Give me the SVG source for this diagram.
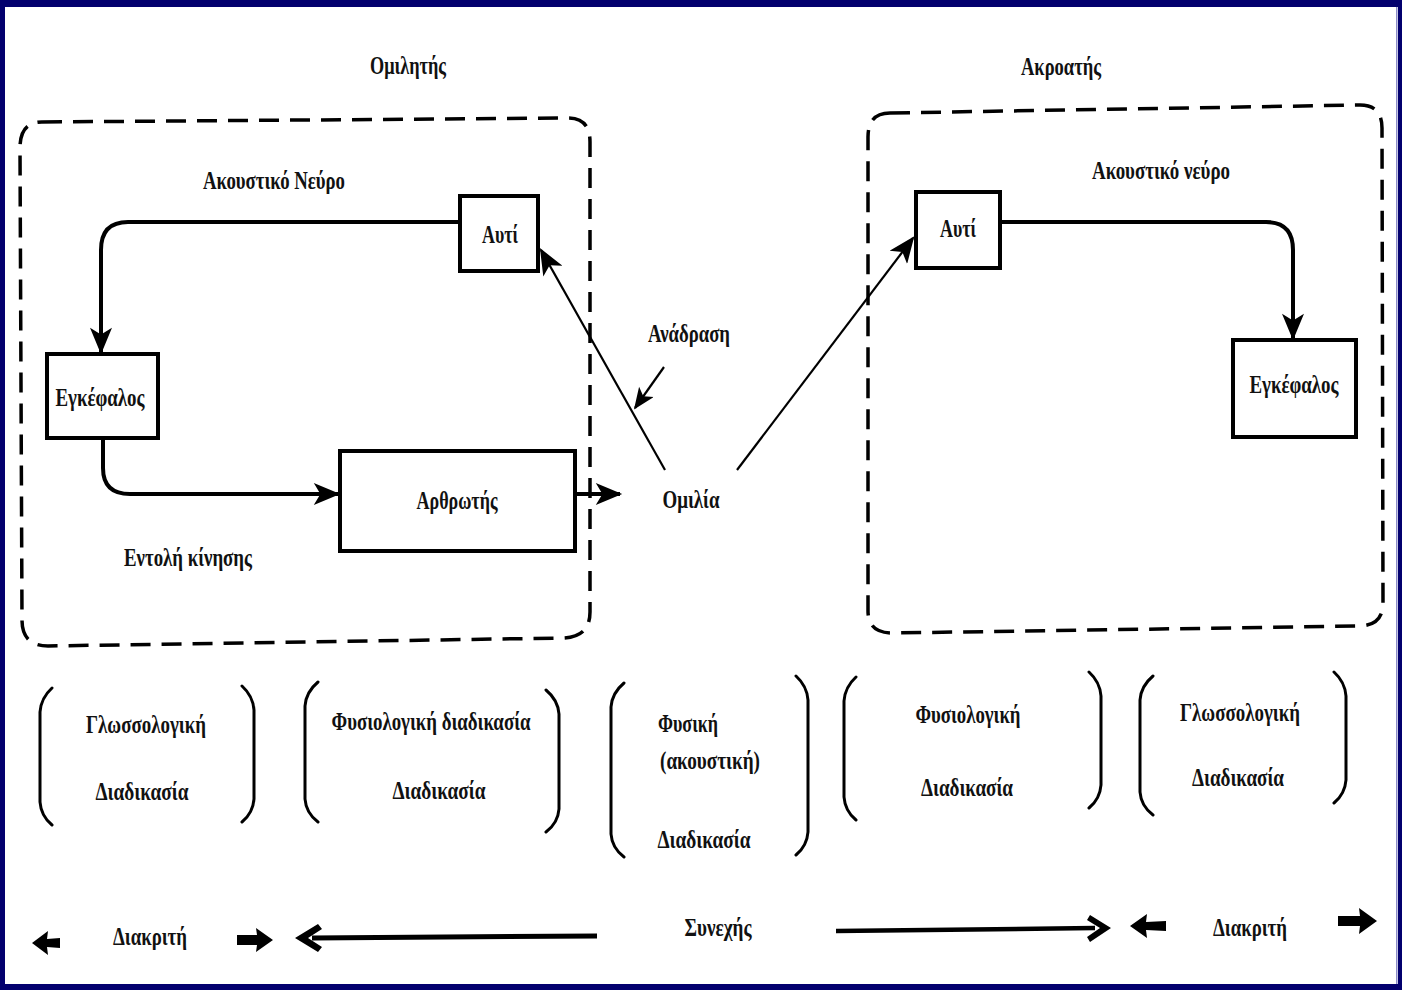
<svg xmlns="http://www.w3.org/2000/svg" width="1402" height="990" viewBox="0 0 1402 990">
<style>
.t{font-family:"Liberation Serif","DejaVu Serif",serif;font-size:25px;font-weight:bold;fill:#111;text-anchor:middle}
.box{fill:#fff;stroke:#000;stroke-width:4}
.dash{fill:none;stroke:#000;stroke-width:3.5;stroke-dasharray:20 11}
.c{fill:none;stroke:#000;stroke-width:4}
.thin{fill:none;stroke:#000;stroke-width:2.2}
.br{fill:none;stroke:#000;stroke-width:3;stroke-linecap:round}
.ar{fill:#000}
.border{fill:#03006E}
</style>
<defs>
<marker id="ah" viewBox="0 0 12 10" refX="11" refY="5" markerWidth="28" markerHeight="22" markerUnits="userSpaceOnUse" orient="auto">
<path d="M0,0 L12,5 L0,10 L3,5 Z" fill="#000"/>
</marker>
<marker id="ahs" viewBox="0 0 12 10" refX="11" refY="5" markerWidth="24" markerHeight="18" markerUnits="userSpaceOnUse" orient="auto">
<path d="M0,0 L12,5 L0,10 L3,5 Z" fill="#000"/>
</marker>
</defs>
<rect width="1402" height="990" fill="#fff"/>
<g id="frame">
<rect class="border" x="0" y="0" width="1402" height="7"/>
<rect class="border" x="0" y="0" width="5" height="990"/>
<rect class="border" x="0" y="984" width="1402" height="6"/>
<rect class="border" x="1398" y="0" width="4" height="990"/>
<rect x="1396" y="7" width="1.5" height="977" fill="#8C8CC8"/>
</g>
<g id="speaker-box">
<path class="dash" d="M42,122 L568,118 Q590,118 590,142 L590,612 Q590,637 563,638 L48,646 Q22,646 22,620 L20,148 Q20,122 42,122 Z"/>
<text class="t" x="408" y="74" textLength="76" lengthAdjust="spacingAndGlyphs">Ομιλητής</text>
</g>
<g id="listener-box">
<path class="dash" d="M890,113 L1360,105 Q1382,105 1382,128 L1383,603 Q1383,625 1360,626 L892,633 Q868,633 868,611 L868,137 Q868,113 890,113 Z"/>
<text class="t" x="1061" y="75" textLength="80" lengthAdjust="spacingAndGlyphs">Ακροατής</text>
</g>
<g id="connectors">
<path class="c" d="M460,222 H128 Q101,222 101,250 V352" marker-end="url(#ah)"/>
<path class="c" d="M103,438 V468 Q103,494 130,494 H338" marker-end="url(#ah)"/>
<path class="c" d="M575,494 H620" stroke-width="5" marker-end="url(#ah)"/>
<path class="thin" d="M665,470 L541,250" marker-end="url(#ah)"/>
<path class="thin" d="M664,367 L635,408" stroke-width="3" marker-end="url(#ahs)"/>
<path class="thin" d="M737,470 L913,238" marker-end="url(#ah)"/>
<path class="c" d="M1000,222 H1266 Q1293,222 1293,250 V338" marker-end="url(#ah)"/>
</g>
<g id="lbl-nerve-left"><text class="t" x="274" y="189" textLength="142" lengthAdjust="spacingAndGlyphs">Ακουστικό Νεύρο</text></g>
<g id="ear-left">
<rect class="box" x="460" y="196" width="78" height="75"/>
<text class="t" x="500" y="243" textLength="36" lengthAdjust="spacingAndGlyphs">Αυτί</text>
</g>
<g id="brain-left">
<rect class="box" x="47" y="354" width="111" height="84"/>
<text class="t" x="100" y="406" textLength="89" lengthAdjust="spacingAndGlyphs">Εγκέφαλος</text>
</g>
<g id="articulator">
<rect class="box" x="340" y="451" width="235" height="100"/>
<text class="t" x="457" y="509" textLength="81" lengthAdjust="spacingAndGlyphs">Αρθρωτής</text>
</g>
<g id="lbl-motor"><text class="t" x="188" y="566" textLength="128" lengthAdjust="spacingAndGlyphs">Εντολή κίνησης</text></g>
<g id="lbl-feedback"><text class="t" x="689" y="342" textLength="82" lengthAdjust="spacingAndGlyphs">Ανάδραση</text></g>
<g id="speech"><text class="t" x="691" y="508" textLength="57" lengthAdjust="spacingAndGlyphs">Ομιλία</text></g>
<g id="lbl-nerve-right"><text class="t" x="1161" y="179" textLength="138" lengthAdjust="spacingAndGlyphs">Ακουστικό νεύρο</text></g>
<g id="ear-right">
<rect class="box" x="916" y="192" width="84" height="76"/>
<text class="t" x="958" y="237" textLength="36" lengthAdjust="spacingAndGlyphs">Αυτί</text>
</g>
<g id="brain-right">
<rect class="box" x="1233" y="340" width="123" height="97"/>
<text class="t" x="1294" y="393" textLength="89" lengthAdjust="spacingAndGlyphs">Εγκέφαλος</text>
</g>
<g id="stage-1">
<path class="br" d="M52,688 Q41,698 40,712 V802 Q41,816 52,825"/>
<path class="br" d="M242,686 Q253,696 254,710 V799 Q253,813 242,822"/>
<text class="t" x="146" y="733" textLength="120" lengthAdjust="spacingAndGlyphs">Γλωσσολογική</text>
<text class="t" x="142" y="800" textLength="93" lengthAdjust="spacingAndGlyphs">Διαδικασία</text>
</g>
<g id="stage-2">
<path class="br" d="M318,682 Q306,692 305,706 V799 Q306,813 318,822"/>
<path class="br" d="M546,690 Q558,700 559,714 V809 Q558,823 546,832"/>
<text class="t" x="431" y="730" textLength="199" lengthAdjust="spacingAndGlyphs">Φυσιολογική διαδικασία</text>
<text class="t" x="439" y="799" textLength="93" lengthAdjust="spacingAndGlyphs">Διαδικασία</text>
</g>
<g id="stage-3">
<path class="br" d="M624,683 Q612,693 611,707 V834 Q612,848 624,857"/>
<path class="br" d="M796,676 Q807,686 808,700 V832 Q807,846 796,855"/>
<text class="t" x="688" y="732" textLength="60" lengthAdjust="spacingAndGlyphs">Φυσική</text>
<text class="t" x="710" y="769" textLength="100" lengthAdjust="spacingAndGlyphs">(ακουστική)</text>
<text class="t" x="704" y="848" textLength="93" lengthAdjust="spacingAndGlyphs">Διαδικασία</text>
</g>
<g id="stage-4">
<path class="br" d="M856,677 Q845,687 844,701 V797 Q845,811 856,820"/>
<path class="br" d="M1089,672 Q1100,682 1101,696 V785 Q1100,799 1089,808"/>
<text class="t" x="968" y="723" textLength="105" lengthAdjust="spacingAndGlyphs">Φυσιολογική</text>
<text class="t" x="967" y="796" textLength="92" lengthAdjust="spacingAndGlyphs">Διαδικασία</text>
</g>
<g id="stage-5">
<path class="br" d="M1153,676 Q1141,686 1140,700 V792 Q1141,806 1153,815"/>
<path class="br" d="M1334,672 Q1345,682 1346,696 V780 Q1345,794 1334,803"/>
<text class="t" x="1240" y="721" textLength="120" lengthAdjust="spacingAndGlyphs">Γλωσσολογική</text>
<text class="t" x="1238" y="786" textLength="92" lengthAdjust="spacingAndGlyphs">Διαδικασία</text>
</g>
<g id="scale">
<polygon class="ar" points="32,943 48,931 47,939 60,938 60,948 47,947 48,955"/>
<text class="t" x="150" y="945" textLength="74" lengthAdjust="spacingAndGlyphs">Διακριτή</text>
<polygon class="ar" points="273,940 256,928 257,935 237,935 237,945 257,945 256,952"/>
<path d="M597,936 L312,938" stroke="#000" stroke-width="5" fill="none"/>
<polygon class="ar" points="295,938 318,924 322,929 308,938 322,947 318,952"/>
<text class="t" x="718" y="936" textLength="67" lengthAdjust="spacingAndGlyphs">Συνεχής</text>
<path d="M836,931 L1095,928" stroke="#000" stroke-width="4.5" fill="none"/>
<polygon class="ar" points="1111,928 1090,915 1087,920 1100,928 1087,937 1090,942"/>
<polygon class="ar" points="1130,926 1147,914 1146,922 1166,921 1166,931 1146,930 1147,938"/>
<text class="t" x="1250" y="936" textLength="74" lengthAdjust="spacingAndGlyphs">Διακριτή</text>
<polygon class="ar" points="1377,921 1359,908 1360,916 1338,916 1338,926 1360,926 1359,934"/>
</g>
</svg>
